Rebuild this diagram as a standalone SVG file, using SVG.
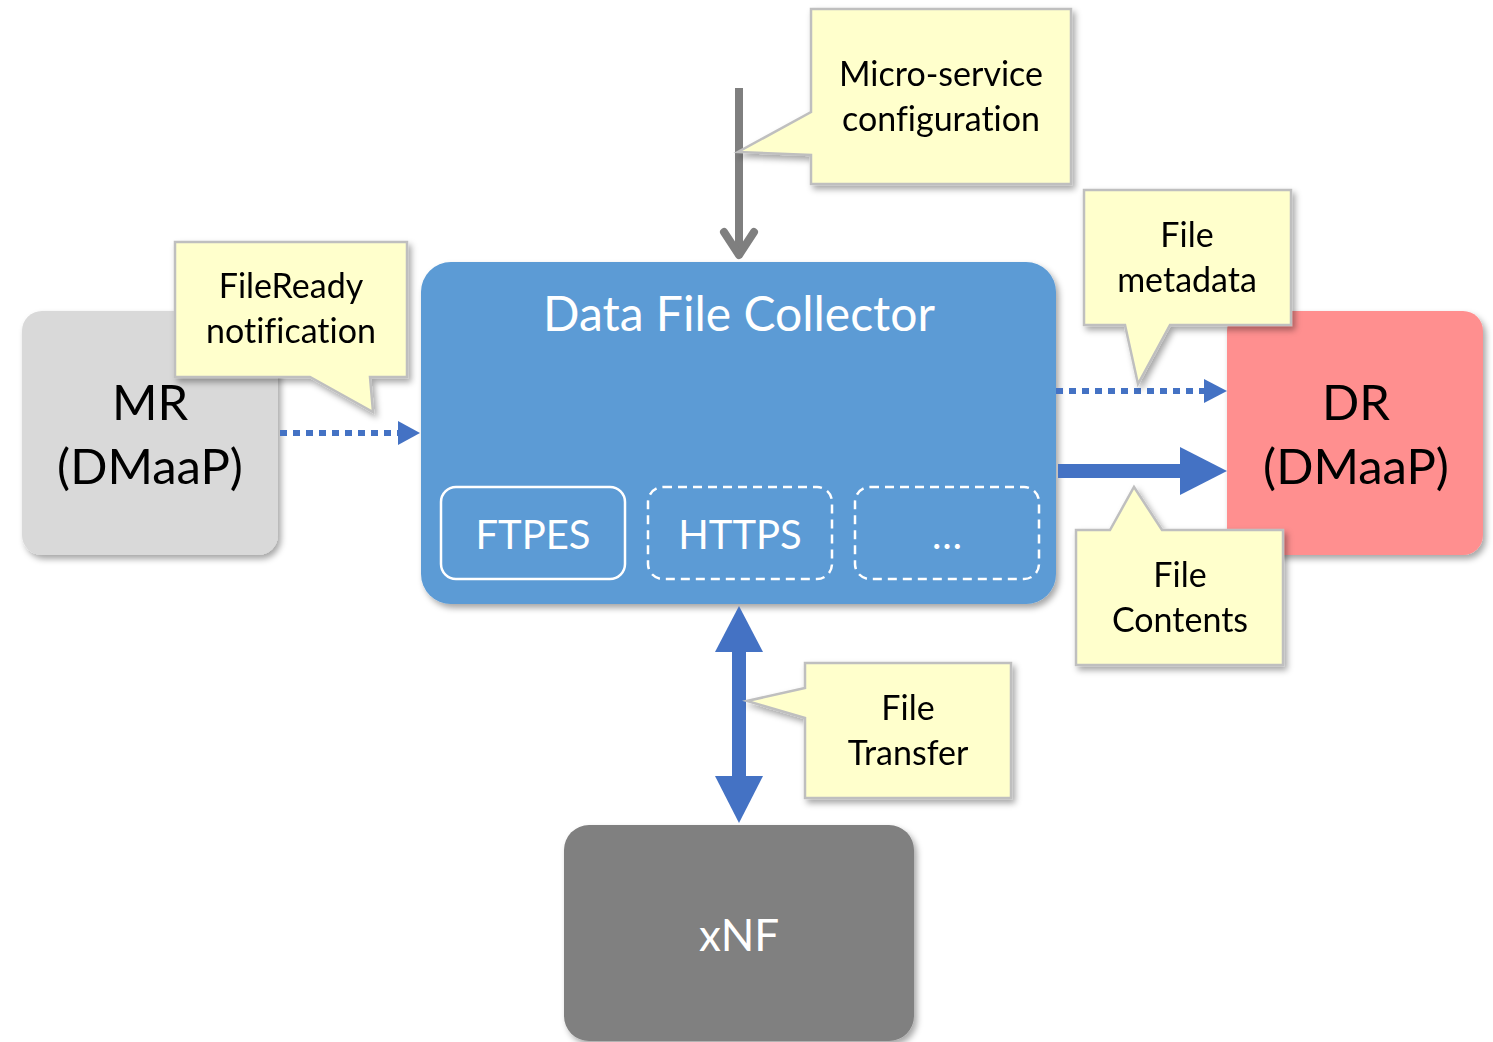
<svg xmlns="http://www.w3.org/2000/svg" width="1493" height="1042" viewBox="0 0 1493 1042">
  <style>
    .lbl { font-family: Lato, "Open Sans", "Liberation Sans", sans-serif; text-anchor: middle; font-variant-ligatures: none; }
    .dark { fill: #000000; }
    .light { fill: #ffffff; }
    .note { fill: #ffffcc; stroke: #bfbfbf; stroke-width: 2.5; stroke-linejoin: miter; }
    .dot { stroke: #4472c4; stroke-width: 6; stroke-dasharray: 7 6; fill: none; }
    .proto { fill: none; stroke: #ffffff; stroke-width: 2.5; }
    .dash { stroke-dasharray: 9 6; }
  </style>
  <defs>
    <filter id="shadow" x="-10%" y="-10%" width="125%" height="125%">
      <feDropShadow dx="3" dy="4" stdDeviation="3" flood-color="#000000" flood-opacity="0.35"/>
    </filter>
  </defs>

  <rect width="1493" height="1042" fill="#ffffff"/>

  <!-- nodes -->
  <g id="mr">
    <rect x="22" y="311" width="256" height="244" rx="20" fill="#d9d9d9" filter="url(#shadow)"/>
    <text class="lbl dark" x="150" y="420" font-size="49">MR</text>
    <text class="lbl dark" x="150" y="484" font-size="49">(DMaaP)</text>
  </g>

  <g id="dr">
    <rect x="1227" y="311" width="256" height="244" rx="20" fill="#ff8f8f" filter="url(#shadow)"/>
    <text class="lbl dark" x="1356" y="420" font-size="49">DR</text>
    <text class="lbl dark" x="1356" y="484" font-size="49">(DMaaP)</text>
  </g>

  <g id="dfc">
    <rect x="421" y="262" width="635" height="342" rx="30" fill="#5b9bd5" filter="url(#shadow)"/>
    <text class="lbl light" x="739" y="331" font-size="48">Data File Collector</text>
    <g id="ftpes">
      <rect class="proto" x="441" y="487" width="184" height="92" rx="15"/>
      <text class="lbl light" x="533" y="549" font-size="40">FTPES</text>
    </g>
    <g id="https">
      <rect class="proto dash" x="648" y="487" width="184" height="92" rx="15"/>
      <text class="lbl light" x="740" y="549" font-size="40">HTTPS</text>
    </g>
    <g id="more">
      <rect class="proto dash" x="855" y="487" width="184" height="92" rx="15"/>
      <text class="lbl light" x="947" y="549" font-size="40">…</text>
    </g>
  </g>

  <g id="xnf">
    <rect x="564" y="825" width="350" height="216" rx="25" fill="#808080" filter="url(#shadow)"/>
    <text class="lbl light" x="739" y="951" font-size="44">xNF</text>
  </g>

  <!-- connectors -->
  <g id="connectors">
    <!-- configuration input -->
    <line x1="739" y1="88" x2="739" y2="256" stroke="#7f7f7f" stroke-width="8"/>
    <polyline points="724,232 739,255 754,232" fill="none" stroke="#7f7f7f" stroke-width="8" stroke-linecap="round" stroke-linejoin="round"/>
    <!-- FileReady notification -->
    <line class="dot" x1="280" y1="433" x2="400" y2="433"/>
    <path d="M398,421 L420,433 L398,445 Z" fill="#4472c4"/>
    <!-- file metadata -->
    <line class="dot" x1="1056" y1="391" x2="1206" y2="391"/>
    <path d="M1204,379 L1227,391 L1204,403 Z" fill="#4472c4"/>
    <!-- file contents -->
    <line x1="1058" y1="471" x2="1182" y2="471" stroke="#4472c4" stroke-width="14"/>
    <path d="M1180,447 L1227,471 L1180,495 Z" fill="#4472c4"/>
    <!-- file transfer -->
    <line x1="739" y1="648" x2="739" y2="780" stroke="#4472c4" stroke-width="14"/>
    <path d="M715,652 L739,606 L763,652 Z" fill="#4472c4"/>
    <path d="M715,776 L739,823 L763,776 Z" fill="#4472c4"/>
  </g>

  <!-- callouts -->
  <g id="note-config" filter="url(#shadow)">
    <path class="note" d="M811,9 L1071,9 L1071,184 L811,184 L811,155 L738,152 L811,112 Z"/>
    <text class="lbl dark" x="941" y="86" font-size="34">Micro-service</text>
    <text class="lbl dark" x="941" y="131" font-size="34">configuration</text>
  </g>

  <g id="note-fileready" filter="url(#shadow)">
    <path class="note" d="M175,242 L407,242 L407,377 L370,377 L373,412 L310,377 L175,377 Z"/>
    <text class="lbl dark" x="291" y="298" font-size="34">FileReady</text>
    <text class="lbl dark" x="291" y="343" font-size="34">notification</text>
  </g>

  <g id="note-metadata" filter="url(#shadow)">
    <path class="note" d="M1084,190 L1291,190 L1291,325 L1170,325 L1138,384 L1125,325 L1084,325 Z"/>
    <text class="lbl dark" x="1187" y="247" font-size="34">File</text>
    <text class="lbl dark" x="1187" y="292" font-size="34">metadata</text>
  </g>

  <g id="note-contents" filter="url(#shadow)">
    <path class="note" d="M1076,530 L1110,530 L1134,487 L1162,530 L1283,530 L1283,665 L1076,665 Z"/>
    <text class="lbl dark" x="1180" y="587" font-size="34">File</text>
    <text class="lbl dark" x="1180" y="632" font-size="34">Contents</text>
  </g>

  <g id="note-transfer" filter="url(#shadow)">
    <path class="note" d="M805,663 L1011,663 L1011,798 L805,798 L805,718 L747,701 L805,688 Z"/>
    <text class="lbl dark" x="908" y="720" font-size="34">File</text>
    <text class="lbl dark" x="908" y="765" font-size="34">Transfer</text>
  </g>
</svg>
